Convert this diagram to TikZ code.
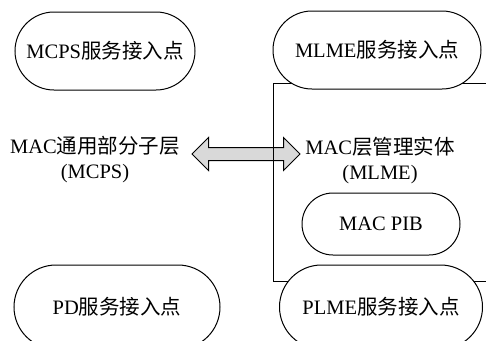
\documentclass[tikz,border=0pt]{standalone}
\usepackage{fontspec}
\setmainfont{Liberation Serif}
\newfontfamily\cjk{Noto Sans CJK SC}
\usetikzlibrary{shapes.misc,shapes.arrows}

\begin{document}
\begin{tikzpicture}[x=1pt, y=-1pt, font=\fontsize{20.5}{25}\selectfont,
  sap/.style={rounded rectangle, draw, fill=white, line width=1pt, inner sep=0pt},
  layertext/.style={align=center, inner sep=0pt},
  fatarrow/.style={double arrow, draw, fill=gray!30, line width=1pt, inner sep=6pt,
    double arrow head extend=10pt, double arrow head indent=0pt, minimum height=108pt}]
  \useasboundingbox (0,0) rectangle (486,340);
  \clip (0,0) rectangle (486,340);
  % layer arrow, box line is drawn over it
  \node[fatarrow] (link) at (246,154) {};
  \draw[line width=1pt] (273,83) rectangle (500,281);
  \node[sap, minimum width=180pt, minimum height=78pt] (mcps sap) at (105,51) {MCPS{\cjk 服务接入点}};
  \node[sap, minimum width=208pt, minimum height=78pt] (mlme sap) at (377,50) {MLME{\cjk 服务接入点}};
  \node[layertext] (mcps) at (95,160) {MAC{\cjk 通用部分子层}\\(MCPS)};
  \node[layertext] (mlme) at (380,160) {MAC{\cjk 层管理实体}\\(MLME)};
  \node[sap, minimum width=158pt, minimum height=62pt] (pib) at (381,224) {MAC PIB};
  \node[sap, minimum width=206pt, minimum height=84pt] (pd sap) at (117,307) {PD{\cjk 服务接入点}};
  \node[sap, minimum width=203pt, minimum height=84pt] (plme sap) at (381,307) {PLME{\cjk 服务接入点}};
\end{tikzpicture}
\end{document}
